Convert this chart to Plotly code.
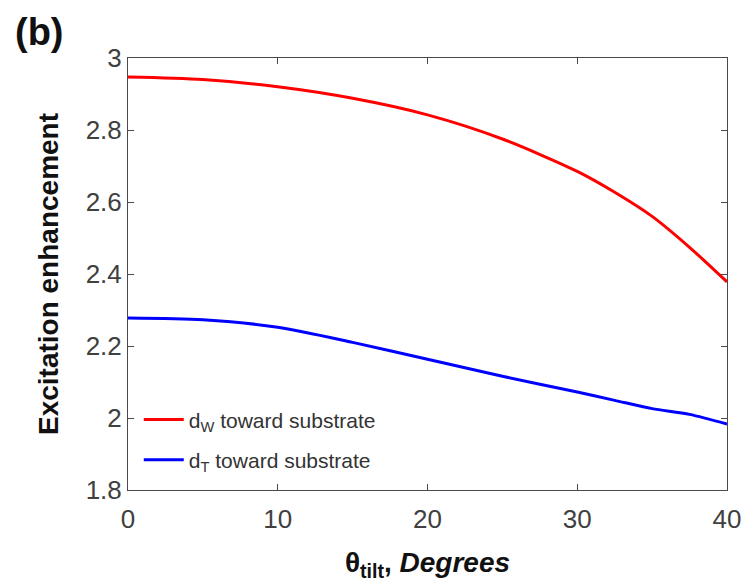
import plotly.graph_objects as go

theta = [0, 5, 10, 15, 20, 25, 30, 32.5, 35, 37.5, 40]
d_w = [2.947, 2.940, 2.920, 2.888, 2.842, 2.775, 2.685, 2.627, 2.560, 2.474, 2.378]
d_t = [2.278, 2.273, 2.252, 2.210, 2.163, 2.116, 2.072, 2.049, 2.026, 2.010, 1.983]
names = ["d<sub>W</sub> toward substrate", "d<sub>T</sub> toward substrate"]
x_ticks = [0, 10, 20, 30, 40]
y_ticks = [1.8, 2.0, 2.2, 2.4, 2.6, 2.8, 3.0]
y_tick_text = ["1.8", "2", "2.2", "2.4", "2.6", "2.8", "3"]

FONT = "Liberation Sans, Arial"

fig = go.Figure()
fig.add_trace(go.Scatter(x=theta, y=d_w, mode="lines", name=names[0], legendgroup="w",
                         line=dict(color="#ff0000", width=3, shape="spline", smoothing=0.8)))
fig.add_trace(go.Scatter(x=theta, y=d_t, mode="lines", name=names[1], legendgroup="t",
                         line=dict(color="#0000ff", width=3, shape="spline", smoothing=0.8)))

axis_common = dict(showgrid=False, zeroline=False, showline=True, linecolor="#4a4a4a",
                   linewidth=1, mirror="ticks", ticks="inside", ticklen=6,
                   tickcolor="#4a4a4a", automargin=False,
                   tickfont=dict(family=FONT, size=26, color="#404040"))

fig.update_xaxes(range=[0, 40], tickvals=x_ticks, ticklabelstandoff=6, **axis_common,
                 title=dict(text="<b>θ<sub>tilt</sub>, <i>Degrees</i></b>",
                            font=dict(family=FONT, size=28, color="#111111"),
                            standoff=22))
fig.update_yaxes(range=[1.8, 3.0], tickvals=y_ticks, ticktext=y_tick_text, **axis_common,
                 title=dict(text="<b>Excitation enhancement</b>",
                            font=dict(family=FONT, size=28, color="#111111"),
                            standoff=18))

fig.add_annotation(text="<b>(b)</b>", xref="paper", yref="paper", x=-0.192, y=1.06,
                   xanchor="left", yanchor="middle", showarrow=False,
                   font=dict(family=FONT, size=38, color="#111111"))

fig.update_layout(
    width=750, height=582,
    margin=dict(l=128, r=23, t=58, b=92),
    paper_bgcolor="white", plot_bgcolor="white",
    showlegend=True,
    legend=dict(x=0.018, y=0.21, xanchor="left", yanchor="top",
                bgcolor="rgba(0,0,0,0)", borderwidth=0,
                font=dict(family=FONT, size=21, color="#333333"),
                itemwidth=40, tracegroupgap=10),
)

fig.write_html("out.html")
